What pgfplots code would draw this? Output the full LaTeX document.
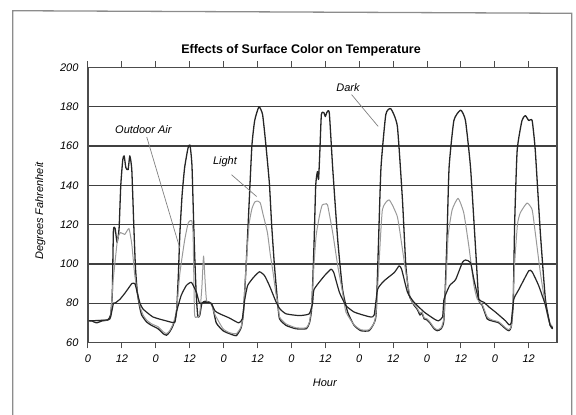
\documentclass[border=0pt]{standalone}
\usepackage{fontspec}
\setmainfont{Liberation Sans}
\usepackage{pgfplots}
\pgfplotsset{compat=1.18}

% surface temperature over one week
\pgfplotstableread{
h v
0 71
1.3 71
3 70
5 71
7 71.5
8 74
8.6 85
9 117
9.6 118
10.3 111
11 118
11.6 140
12.3 153
12.8 155
13.4 149
14.2 148
14.8 155
15.5 148
16.2 120
16.8 98
17.5 85
18.3 78
19 74
20.7 70.5
22.5 68.7
24.8 67
26.6 64.5
27.8 63.7
28.9 65.4
30.1 68.7
31.3 75
32 95
32.5 115
33.3 135
34.2 149
35.4 159
36.1 160.5
36.8 150
37.5 116
38 95
38.4 82
38.9 73
39.6 74
40.3 80
41.5 81
43 80.5
44 79
45.4 70
47.8 66
50.1 64.5
52.5 63.5
54.2 67.5
55 75
56 100
57 130
58 160
59 173
60.5 180
61.8 176
63 160
64.2 141
65 120
66 99
67.2 79
67.8 72
70.1 68.7
73.6 67
77.2 67
78.4 70
79.2 78
80 110
80.6 140
81.2 147
81.6 143
82 155
82.6 176
83.5 177
84 175
84.5 177
85.4 177
86.6 149
88.4 112
90.1 87
91.9 75.5
94.2 68.7
96.6 66
99.5 66
101.3 70
102 75
102.8 110
103.7 149
105.4 176
107.2 179
109.5 170
111.3 132.6
112.5 99
113.7 84
115.4 79
116.5 77
117.5 74
118.2 75
119 72
120 71.5
121 70
122.5 67
123.6 66
125 67
126 72
127 110
127.8 149
129.5 173
131.9 178.3
133.6 173
135.4 149
137.2 107.4
138.3 82
139.5 79
141.3 72
143 71
145.4 70
147.8 67
149 66
149.8 68
150.5 80
151 120
151.9 157.8
153.6 173
154.8 175.5
156 173
157.2 173
158.3 158
160.1 116
161.9 82
163.6 68.7
164.5 67
}\darkdata

\pgfplotstableread{
h v
0 71
7 71.5
8 73
8.8 90
9.5 100
10.5 113
11.5 116
13 115
14.5 118
15.5 110
16.5 95
17.5 85
18.5 78
19.5 74
20.7 71.5
22.5 69.5
24.8 68
26.6 65.5
27.8 64.5
28.9 66
30.1 69.5
31.3 76
32.5 95
34.2 112
35.5 121
36.7 122
37.2 115
37.7 75
38.5 73
39.5 74
40.3 88
40.9 104
41.5 90
42 81
43.5 80
45 74
47.8 67
50.1 65
52.5 64.5
54.2 68
55 75
56 100
57 120
58 128
59 131.5
60 132
61 131
62 125
63.5 116
64.5 105
65.5 95.6
66.5 85
67.2 80.5
67.8 73
70.1 69.5
73.6 67.5
77.2 67.5
78.4 70.5
79.2 80
80 100
80.8 115
82 125
82.9 130
84 130.5
84.8 130
86.6 116
88.4 99
90.1 85.5
91.3 75.5
94.2 69
96.6 66.5
99.5 66.5
101.3 70
102 76
103 100
104.2 127.6
106.6 132.6
109.5 124
111.3 107.4
112.5 95.6
114.2 82
115.4 79.5
116.5 77.5
117.5 75
118.2 75.5
119 72.5
120 72
121 70.5
122.5 67.5
123.6 66.5
125 67.5
126 73
127 100
127.5 115
128.9 127.6
131 133.4
133 126
134.8 109
136.6 89
137.8 82
139.5 79.5
141.3 73
143 71.5
145.4 70.5
147.8 67.5
149 66.5
150 70
151 100
152 120
153 126
155.4 131
157.2 127.6
158.3 116
160.1 95.6
161.9 79
163.2 70.4
164.5 68
}\lightdata

\pgfplotstableread{
h v
0 71
7 71.5
8 73
9 80
9.5 80
11.3 82
13 85
14.5 88
15.5 90
16.6 90
17.5 85
18.4 80
19.5 77
23 73
27.7 71
30.7 70.2
31.3 75.5
33 84
34.8 89
36.6 90.6
38.4 85.5
39.5 80
41.6 80.5
43.5 80
45 76
46.8 74.5
50 72.5
53.3 70
54.6 72
55.5 82
56.5 89
58.5 93
60.7 96
62.5 94
64.2 89
66.6 80.5
68 77
70.1 74.6
74.8 73.7
78.3 74.6
79.5 80
80 87
83.7 94
86 97.3
87 95.6
89 85.5
91.3 78.8
94.2 75.5
97.8 73.8
100.1 73
101.3 74
102.5 87
104.8 91.4
108.4 95.6
110.1 99
111 97.3
113.1 85.5
115.4 80.5
119 75.5
122.5 72
124 71
125.5 73
126 82
128 89
130.1 92
132.5 100.7
133.6 102
135.4 100.7
136.6 92
138.3 82
140.1 80.5
142 78
144.2 75.5
147.8 71
149 69
149.8 70
150.7 82
152.5 87
156 96.5
157.2 96
159.5 89
161.9 79
163.6 68.7
164.5 67.5
}\airdata

\begin{document}
\begin{tikzpicture}
\begin{axis}[
    width=469pt, height=275pt, scale only axis,
    xmin=0, xmax=166, ymin=60, ymax=200,
    xtick={0,12,...,156},
    xticklabels={0,12,0,12,0,12,0,12,0,12,0,12,0,12},
    ytick={60,80,...,200},
    ymajorgrids,
    grid style={black!75, line width=1.4pt},
    axis line style={black!70, line width=1.4pt},
    tick align=outside,
    major tick length=6pt,
    xtick style={black!70, line width=1pt},
    ytick style={draw=none},
    tick label style={font=\fontsize{11}{12}\selectfont\itshape},
    xticklabel style={yshift=-3pt},
    /pgf/number format/assume math mode=true,
    xlabel={Hour}, ylabel={Degrees Fahrenheit},
    label style={font=\fontsize{11}{12}\selectfont\itshape},
    xlabel style={at={(rel axis cs:0.505,-0.146)}, anchor=center},
    ylabel style={at={(rel axis cs:-0.1015,0.478)}, anchor=center},
    clip mode=individual,
]
\addplot[black!85, line width=1.3pt, line join=round, smooth, tension=0.3] table[x=h, y=v] {\darkdata};
\addplot[black!40, line width=1pt, line join=round, smooth, tension=0.3] table[x=h, y=v] {\lightdata};
\addplot[black!85, line width=1.2pt, line join=round, smooth, tension=0.3] table[x=h, y=v] {\airdata};

% call-outs
\draw[black!50, line width=0.7pt] (axis cs:20.8,164.6) -- (axis cs:32.5,108);
\draw[black!50, line width=0.7pt] (axis cs:50.8,145.4) -- (axis cs:59.7,134.3);
\draw[black!50, line width=0.7pt] (axis cs:93.3,186.2) -- (axis cs:102.7,170);
\node[font=\fontsize{11}{12}\selectfont\itshape] at (rel axis cs:0.118,0.7727) {Outdoor Air};
\node[font=\fontsize{11}{12}\selectfont\itshape] at (rel axis cs:0.292,0.6575) {Light};
\node[font=\fontsize{11}{12}\selectfont\itshape] at (rel axis cs:0.5544,0.927) {Dark};
\node[font=\fontsize{12.5}{14}\selectfont\bfseries] at (rel axis cs:0.4542,1.0618) {Effects of Surface Color on Temperature};

% page frame of the scan
\draw[black!45, line width=1.3pt] (rel axis cs:-0.1605,-0.3) -- (rel axis cs:-0.1605,1.2065)
    -- (rel axis cs:1.0313,1.1971) -- (rel axis cs:1.0313,-0.3);
\coordinate (bbSW) at (rel axis cs:-0.18763,-0.26364);
\coordinate (bbNE) at (rel axis cs:1.04051,1.24545);
\end{axis}
\pgfresetboundingbox
\useasboundingbox (bbSW) rectangle (bbNE);
\end{tikzpicture}
\end{document}
